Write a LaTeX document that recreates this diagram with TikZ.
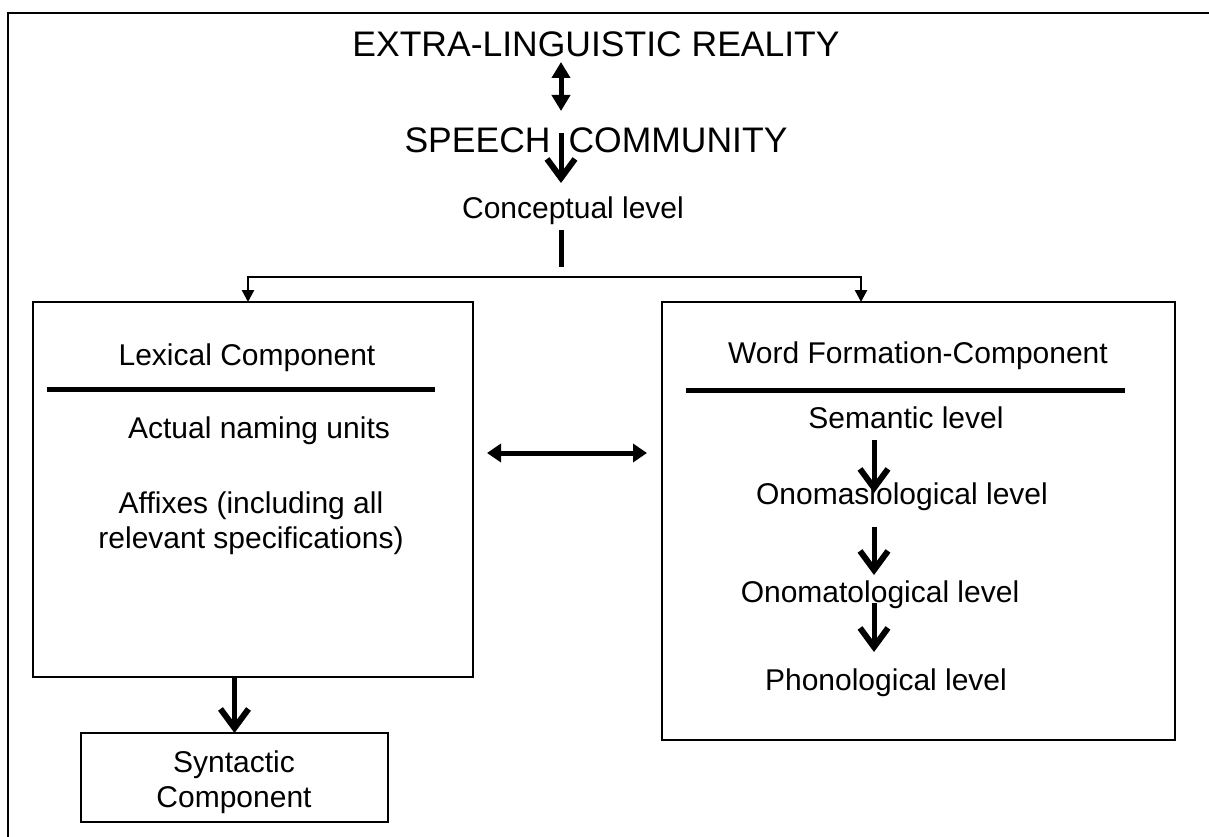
\documentclass[tikz,border=0pt]{standalone}
\usepackage{fontspec}
\setmainfont{Liberation Sans}
\usetikzlibrary{arrows.meta}
\begin{document}
\begin{tikzpicture}[x=1pt,y=-1pt,
  every node/.style={inner sep=0pt, outer sep=0pt},
  big/.style={font=\fontsize{35.5}{40}\selectfont},
  med/.style={font=\fontsize{30}{35}\selectfont, align=center},
  boxshape/.style={draw, line width=2.5pt, rectangle},
  rulestyle/.style={line width=5pt},
  varrow/.style={line width=5pt, -{Straight Barb[length=19pt,width=28pt,line width=6pt]}},
  bigdouble/.style={line width=5pt, {Triangle[length=16pt,width=18pt]}-{Triangle[length=16pt,width=18pt]}},
  middouble/.style={line width=5pt, {Triangle[length=14pt,width=18pt]}-{Triangle[length=14pt,width=18pt]}},
  dist/.style={line width=2.5pt, {Triangle[length=12pt,width=12pt]}-{Triangle[length=12pt,width=12pt]}},
  frame/.style={line width=2.5pt}
]
\useasboundingbox[fill=white] (0,0) rectangle (1209,837);

% outer frame
\coordinate (fbl) at (8,845);
\coordinate (ftl) at (8,13);
\coordinate (ftr) at (1215,13);
\draw[frame] (fbl) -- (ftl) -- (ftr);

% top texts
\node[big] (extra) at (596,44) {EXTRA-LINGUISTIC REALITY};
\node[big] (speech) at (596,140) {SPEECH\hspace{18pt}COMMUNITY};
\node[med] (concept) at (573,211) {Conceptual level};

% boxes
\node[boxshape, minimum width=440pt, minimum height=375pt] (lexbox) at (253,489.5) {};
\node[boxshape, minimum width=513pt, minimum height=438pt] (wfbox) at (918.5,521) {};
\node[boxshape, minimum width=307pt, minimum height=89pt] (synbox) at (234.5,777.5) {};
\node[med] (syntext) at (234,782) {Syntactic\\Component};

% lexical box contents
\node[med] (lextitle) at (247,358) {Lexical Component};
\coordinate (lrl) at (47,389);
\coordinate (lrr) at (435,389);
\draw[rulestyle] (lrl) -- (lrr);
\node[med] (actual) at (259,431) {Actual naming units};
\node[med] (affixes) at (251,523) {Affixes (including all\\relevant specifications)};

% word formation box contents
\node[med] (wftitle) at (918,356) {Word Formation-Component};
\coordinate (wrl) at (686,390);
\coordinate (wrr) at (1125,390);
\draw[rulestyle] (wrl) -- (wrr);
\node[med] (sem) at (906,418) {Semantic level};
\node[med] (onomas) at (902,497) {Onomasiological level};
\node[med] (onomat) at (880,595) {Onomatological level};
\node[med] (phon) at (886,683) {Phonological level};

% connectors at top
\coordinate (a1s) at (561,62);
\coordinate (a1e) at (561,111);
\draw[bigdouble] (a1s) -- (a1e);
\coordinate (a2s) at (561,133);
\coordinate (a2e) at (561,183);
\draw[varrow] (a2s) -- (a2e);
\coordinate (bars) at (561,230);
\coordinate (bare) at (561,267);
\draw[rulestyle] (bars) -- (bare);
\coordinate (hl) at (248,277);
\coordinate (hr) at (861,277);
\draw[dist] (hl |- lexbox.north) -- (hl) -- (hr) -- (hr |- wfbox.north);

% between boxes
\coordinate (mls) at (487,453);
\coordinate (mle) at (647,453);
\draw[middouble] (mls) -- (mle);

% inside word formation box
\coordinate (r1s) at (874,440);
\coordinate (r1e) at (874,493);
\draw[varrow] (r1s) -- (r1e);
\coordinate (r2s) at (874,527);
\coordinate (r2e) at (874,575);
\draw[varrow] (r2s) -- (r2e);
\coordinate (r3s) at (874,603);
\coordinate (r3e) at (874,652);
\draw[varrow] (r3s) -- (r3e);

% lexical to syntactic
\draw[varrow] (lexbox.south -| synbox.north) -- (synbox.north);
\end{tikzpicture}
\end{document}
